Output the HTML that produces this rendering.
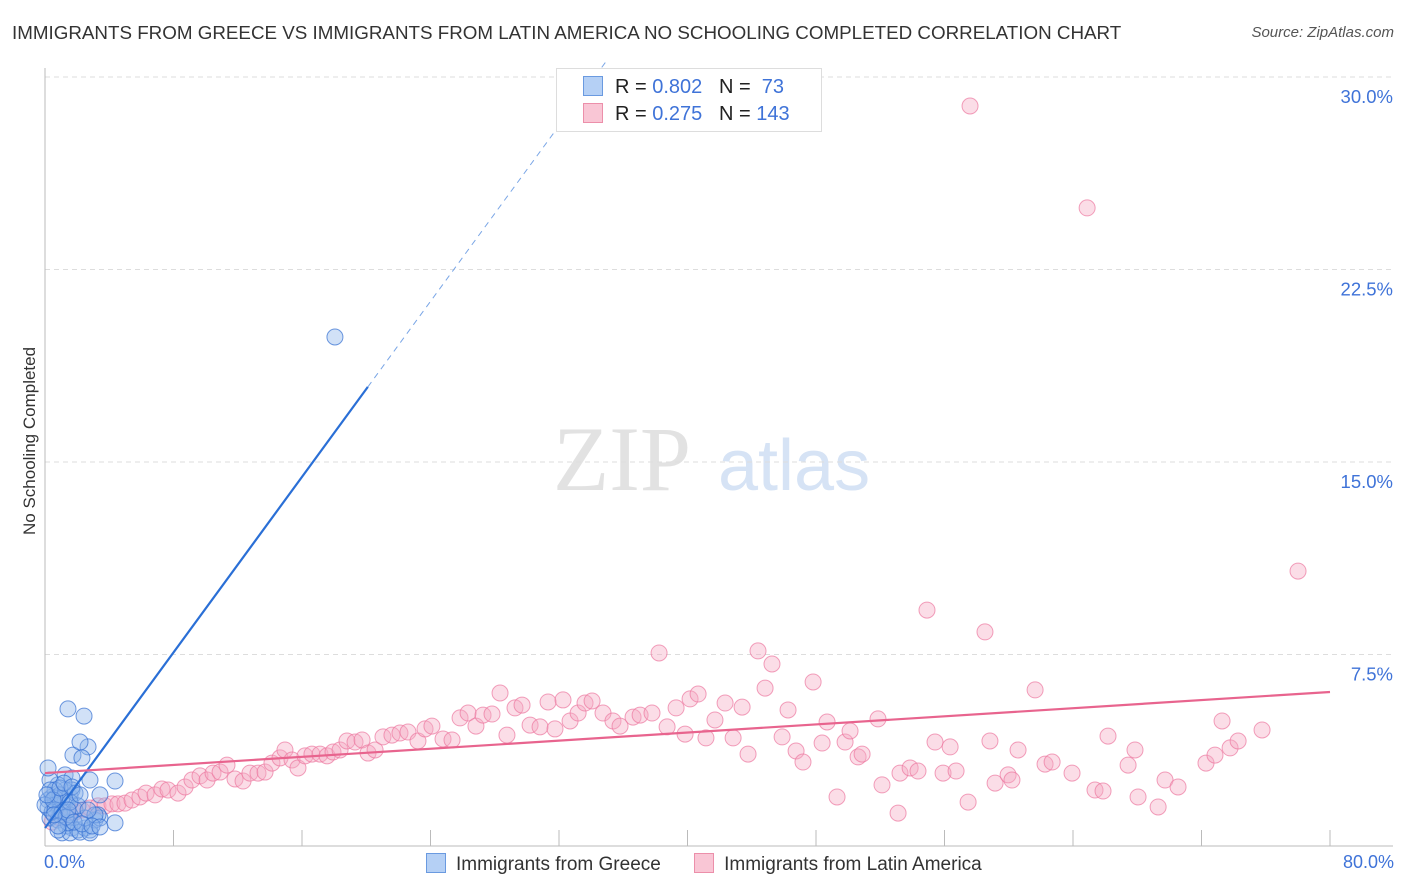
<!DOCTYPE html>
<html><head><meta charset="utf-8">
<style>
body{margin:0;background:#fff;font-family:"Liberation Sans",sans-serif;}
#wrap{position:relative;width:1406px;height:892px;overflow:hidden;}
.t{position:absolute;white-space:nowrap;}
</style></head>
<body>
<div id="wrap">
<div class="t" style="left:12px;top:22px;font-size:18.8px;color:#333;">IMMIGRANTS FROM GREECE VS IMMIGRANTS FROM LATIN AMERICA NO SCHOOLING COMPLETED CORRELATION CHART</div>
<div class="t" style="right:12px;top:24px;font-size:15px;color:#555;font-style:italic;">Source: ZipAtlas.com</div>
<div class="t" style="left:-50px;top:445px;font-size:17px;color:#333;transform:rotate(-90deg);transform-origin:center;width:160px;text-align:center;">No Schooling Completed</div>
<svg id="plot" width="1406" height="892" style="position:absolute;left:0;top:0"></svg>
<div class="t" style="left:44px;top:852px;font-size:18px;color:#3f73d8;">0.0%</div>
<div class="t" style="right:12px;top:852px;font-size:18px;color:#3f73d8;">80.0%</div>
<div style="position:absolute;left:556px;top:68px;width:264px;height:62px;border:1px solid #ddd;background:#fff;font-size:20px;color:#222;">
 <div style="position:absolute;left:26px;top:7px;"><span style="display:inline-block;width:18px;height:18px;background:#b5d0f5;border:1px solid #6a9ae0;vertical-align:-3px;margin-right:12px"></span>R = <span style="color:#3f73d8">0.802</span>&nbsp;&nbsp;&nbsp;N = &nbsp;<span style="color:#3f73d8">73</span></div>
 <div style="position:absolute;left:26px;top:34px;"><span style="display:inline-block;width:18px;height:18px;background:#f9c6d5;border:1px solid #ec8faa;vertical-align:-3px;margin-right:12px"></span>R = <span style="color:#3f73d8">0.275</span>&nbsp;&nbsp;&nbsp;N = <span style="color:#3f73d8">143</span></div>
</div>
<div style="position:absolute;left:426px;top:853px;font-size:19px;color:#333;white-space:nowrap;">
 <span><span style="display:inline-block;width:18px;height:18px;background:#b5d0f5;border:1px solid #6a9ae0;vertical-align:-3px;margin-right:10px"></span>Immigrants from Greece</span>
 <span style="margin-left:28px"><span style="display:inline-block;width:18px;height:18px;background:#f9c6d5;border:1px solid #ec8faa;vertical-align:-3px;margin-right:10px"></span>Immigrants from Latin America</span>
</div>
</div>
<script>
const yTicks=[7.5,15,22.5,30];
const yTickLabels=["7.5%","15.0%","22.5%","30.0%"];
const xTicks=[0,8,16,24,32,40,48,56,64,72,80];
const greeceX=[.44,.19,.62,.93,1.25,1.56,1.87,.31,.81,1.31,1.68,2.05,2.49,2.80,3.11,3.42,1.06,1.56,2.18,2.80,1.43,1.25,1.68,1.43,2.43,1.74,2.68,2.18,2.30,1.68,1.25,.81,.31,.19,.62,1.06,2.80,3.42,4.36,4.36,3.30,.93,.62,.19,.44,1.56,.93,18.05,0,.31,.62,1.06,1.87,2.49,3.11,2.05,.81,1.31,1.56,.50,.12,.93,1.18,1.68,2.18,2.68,1.43,1.81,2.30,2.93,3.42,.81,.56];
const greeceY=[1.95,1.83,1.64,1.44,1.75,1.95,1.44,1.13,1.05,.82,.74,.66,.74,.66,1.05,1.13,.55,.55,.58,.55,.94,2.81,2.69,5.38,5.10,3.58,3.90,4.09,3.47,2.22,2.22,2.42,2.61,3.08,2.22,1.91,2.61,2.03,2.57,.94,1.25,1.25,1.91,1.52,1.36,1.25,2.03,19.87,1.64,2.22,1.44,1.36,2.10,1.13,1.25,1.60,.66,1.17,1.75,1.83,2.03,2.30,2.49,2.34,2.03,1.44,1.44,.97,.90,.82,.78,.82,1.25];
const latinX=[.44,.93,1.43,1.87,2.30,2.80,3.30,3.74,4.17,4.54,4.98,5.42,5.91,6.29,6.85,7.28,7.66,8.28,8.72,9.15,9.65,10.09,10.46,10.90,11.33,11.83,12.33,12.76,13.26,13.70,14.13,14.63,14.94,15.38,15.75,16.19,16.62,17.12,17.56,17.93,18.37,18.80,19.30,19.74,20.11,20.55,21.04,21.60,22.10,22.60,23.22,23.66,24.09,24.78,25.34,25.84,26.34,26.83,27.27,27.83,28.33,28.76,29.26,29.70,30.20,30.82,31.32,31.75,32.25,32.69,33.19,33.62,34.06,34.74,35.36,35.80,36.61,37.05,37.79,38.23,38.73,39.29,39.85,40.16,40.66,41.15,41.71,42.34,42.84,43.40,43.77,44.39,44.83,45.26,45.89,46.26,46.76,47.19,47.82,48.38,48.69,49.31,49.81,50.12,50.62,50.87,51.86,52.11,53.11,53.23,53.86,54.35,54.91,55.41,55.91,56.35,56.72,57.47,57.59,58.52,58.83,59.15,59.96,60.20,60.58,61.64,62.26,62.70,63.94,64.88,65.37,65.87,66.18,67.43,67.86,68.05,69.30,69.73,70.54,72.28,72.84,73.28,73.78,74.28,75.77,78.01];
const latinY=[.97,1.13,1.25,1.36,1.44,1.52,1.60,1.60,1.68,1.68,1.71,1.83,1.95,2.10,2.03,2.26,2.22,2.10,2.34,2.61,2.77,2.61,2.88,2.92,3.19,2.65,2.57,2.88,2.88,2.92,3.27,3.47,3.78,3.39,3.08,3.55,3.62,3.62,3.55,3.70,3.78,4.13,4.09,4.17,3.66,3.78,4.29,4.36,4.44,4.48,4.13,4.60,4.71,4.21,4.17,5.03,5.22,4.71,5.14,5.18,6.00,4.36,5.42,5.53,4.75,4.68,5.65,4.60,5.73,4.91,5.22,5.61,5.69,5.22,4.91,4.71,5.06,5.14,5.22,7.56,4.68,5.42,4.40,5.77,5.96,4.25,4.95,5.61,4.25,5.45,3.62,7.64,6.19,7.13,4.29,5.34,3.74,3.31,6.43,4.05,4.87,1.95,4.09,4.52,3.51,3.62,4.99,2.42,1.32,2.88,3.08,2.96,9.23,4.09,2.88,3.90,2.96,1.75,28.87,8.38,4.13,2.49,2.81,2.61,3.78,6.12,3.23,3.31,2.88,24.90,2.22,2.18,4.32,3.19,3.78,1.95,1.56,2.61,2.34,3.27,3.58,4.91,3.86,4.13,4.56,10.75];
const greeceTrend=[0.74,0.855];
const latinTrend=[2.88,0.0395];

const NS="http://www.w3.org/2000/svg";
const svg=document.getElementById('plot');
const X=v=>45+v/80*1285;
const Y=v=>847-v/7.5*192.5;
function mk(tag,attrs){const e=document.createElementNS(NS,tag);for(const k in attrs)e.setAttribute(k,attrs[k]);svg.appendChild(e);return e;}

let wm=mk('text',{x:553,y:490,'font-size':92,'font-family':'Liberation Serif, serif',fill:'#e2e2e2'});
wm.textContent='ZIP';


let wm2=mk('text',{x:718,y:490,'font-size':72,'font-family':'Liberation Sans, sans-serif',fill:'#d6e3f5'});
wm2.textContent='atlas';



yTicks.forEach((t,i)=>{
 const g=mk('line',{x1:45,x2:1393,y1:Y(t),y2:Y(t),stroke:'#ddd','stroke-dasharray':'5,4'});
 
 
 const l=mk('text',{x:1393,y:Y(t)+26,'text-anchor':'end','font-size':18.5,fill:'#3f73d8','font-family':'Liberation Sans, sans-serif'});
 l.textContent=yTickLabels[i];
 
 
});
const ax=mk('line',{x1:45,x2:45,y1:68,y2:846,stroke:'#bbb'});


const bx=mk('line',{x1:45,x2:1393,y1:846,y2:846,stroke:'#bbb'});


xTicks.forEach(t=>{
 const tk=mk('line',{x1:X(t),x2:X(t),y1:830,y2:846,stroke:'#bbb'});
 
 
});

latinX.forEach((x,i)=>{
 const c=mk('circle',{cx:X(x),cy:Y(latinY[i]),r:8,fill:'rgba(246,170,195,0.4)',stroke:'rgba(236,120,160,0.7)','stroke-width':1});
 
 
});
greeceX.forEach((x,i)=>{
 const c=mk('circle',{cx:X(x),cy:Y(greeceY[i]),r:8,fill:'rgba(140,180,235,0.4)',stroke:'rgba(50,110,210,0.7)','stroke-width':1});
 
 
});

const gEnd=20.1, gTop=(30-greeceTrend[0])/greeceTrend[1];
const gl=mk('line',{x1:X(0),y1:Y(greeceTrend[0]),x2:X(gEnd),y2:Y(greeceTrend[0]+greeceTrend[1]*gEnd),stroke:'#2a6fd6','stroke-width':2.2});


const gd=mk('line',{x1:X(gEnd),y1:Y(greeceTrend[0]+greeceTrend[1]*gEnd),x2:X(gTop+0.8),y2:Y(greeceTrend[0]+greeceTrend[1]*(gTop+0.8)),stroke:'#7aa6e6','stroke-width':1,'stroke-dasharray':'6,5'});


const ll=mk('line',{x1:X(0),y1:Y(latinTrend[0]),x2:X(80),y2:Y(latinTrend[0]+latinTrend[1]*80),stroke:'#e8648e','stroke-width':2.2});


</script>
</body></html>
